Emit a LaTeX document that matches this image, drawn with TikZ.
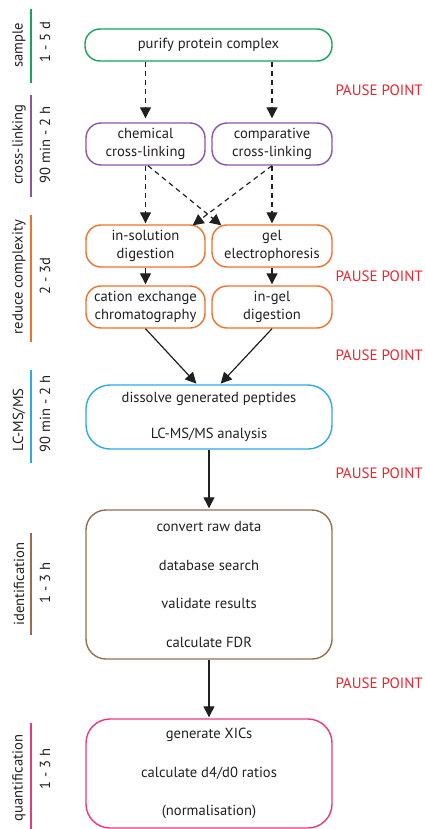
\documentclass[tikz,border=0pt]{standalone}
\usepackage{fontspec}
\setmainfont{PT Sans}
\usetikzlibrary{arrows.meta,calc}
\definecolor{cgreen}{RGB}{20,165,90}
\definecolor{cpurple}{RGB}{140,85,170}
\definecolor{corange}{RGB}{242,112,45}
\definecolor{cblue}{RGB}{45,170,225}
\definecolor{cbrown}{RGB}{150,110,75}
\definecolor{cpink}{RGB}{235,55,130}
\definecolor{cred}{RGB}{238,35,45}
\definecolor{ink}{RGB}{35,31,32}
\begin{document}
\begin{tikzpicture}[x=1pt,y=-1pt,
  font=\fontsize{14.6}{18.5}\selectfont,
  box/.style={draw, line width=1.4pt, rounded corners=15pt, align=center,
    inner sep=1pt, text=ink},
  small/.style={box, minimum width=119pt, minimum height=42pt, text width=117pt},
  big/.style={box, minimum width=246pt, rounded corners=24pt},
  flow/.style={draw=ink, line width=1.2pt, -{Triangle[width=11pt,length=11pt]}},
  dflow/.style={flow, dash pattern=on 5pt off 4pt},
  pause/.style={anchor=west, text=cred, font=\fontsize{15}{18}\selectfont},
  phase/.style={rotate=90, text=ink},
  bar/.style={line width=1.5pt}]
\useasboundingbox (0,0) rectangle (425,829);

% main steps
\node[box, draw=cgreen, minimum width=247pt, minimum height=32pt] (purify) at (208.5,45) {purify protein complex};
\node[small, draw=cpurple] (chem) at (145.5,144) {chemical\\cross-linking};
\node[small, draw=cpurple, minimum width=120pt] (comp) at (272,144) {comparative\\cross-linking};
\node[small, draw=corange] (insol) at (145.5,246) {in-solution\\digestion};
\node[small, draw=corange, minimum width=120pt] (gel) at (272,246) {gel\\electrophoresis};
\node[small, draw=corange] (cation) at (145.5,307) {cation exchange\\chromatography};
\node[small, draw=corange, minimum width=120pt] (ingel) at (272,307) {in-gel\\digestion};
\node[big, draw=cblue, minimum height=64pt] (dissolve) at (209,417)
  {dissolve generated peptides\\[18pt]LC-MS/MS analysis};
\node[big, draw=cbrown, minimum height=149pt, rounded corners=20pt] (ident) at (209,584.5)
  {convert raw data\\[20pt]database search\\[20pt]validate results\\[20pt]calculate FDR};
\node[big, draw=cpink, minimum height=109pt] (quant) at (209,773.5)
  {generate XICs\\[20pt]calculate d4/d0 ratios\\[20pt](normalisation)};

% connectors
\draw[dflow, shorten >=4pt] (chem.north |- purify.south) -- (chem.north);
\draw[dflow, shorten >=4pt] (comp.north |- purify.south) -- (comp.north);
\draw[dflow, shorten >=1pt] (chem.south) -- (insol.north);
\draw[dflow, shorten >=1pt] (comp.south) -- (gel.north);
\coordinate (chemout) at ($(chem.south)+(2.5,0)$);
\coordinate (compout) at (comp.south);
\coordinate (gelin) at ($(gel.north west)+(10,1)$);
\coordinate (insolin) at ($(insol.north east)+(-13,1)$);
\draw[dflow] (chemout) -- (gelin);
\draw[dflow] (compout) -- (insolin);
\draw[flow, shorten >=1pt] (insol.south) -- (cation.north);
\draw[flow, shorten >=1pt] (gel.south) -- (ingel.north);
\coordinate (dinl) at ($(dissolve.north)+(-12,0)$);
\coordinate (dinr) at ($(dissolve.north)+(11,0)$);
\draw[flow, shorten >=1pt] (cation.south) -- (dinl);
\draw[flow, shorten >=1pt] (ingel.south) -- (dinr);
\draw[flow, shorten >=1pt] (dissolve.south) -- (ident.north);
\draw[flow, shorten >=1pt] (ident.south) -- (quant.north);

% pause points
\node[pause] (p1) at (332,90) {PAUSE POINT};
\node[pause] (p2) at (332,276) {PAUSE POINT};
\node[pause] (p3) at (332,355) {PAUSE POINT};
\node[pause] (p4) at (332,473) {PAUSE POINT};
\node[pause] (p5) at (332,683) {PAUSE POINT};

% phase labels with durations
\draw[bar, cgreen] (31,9) -- (31,83);
\node[phase] (s1) at (19,45) {sample};
\node[phase] (t1) at (45,42) {1 - 5 d};
\draw[bar, cpurple] (31,95) -- (31,197);
\node[phase] (s2) at (19,145) {cross-linking};
\node[phase] (t2) at (45,145) {90 min - 2 h};
\draw[bar, corange] (31,215) -- (31,342);
\node[phase] (s3) at (19,277) {reduce complexity};
\node[phase] (t3) at (45,276) {2 - 3d};
\draw[bar, cblue] (31,370) -- (31,463);
\node[phase] (s4) at (19,420) {LC-MS/MS};
\node[phase] (t4) at (45,414) {90 min - 2 h};
\draw[bar, cbrown] (31,533) -- (31,635);
\node[phase] (s5) at (19,584) {identification};
\node[phase] (t5) at (45,583) {1 - 3 h};
\draw[bar, cpink] (31,723) -- (31,829);
\node[phase] (s6) at (19,778) {quantification};
\node[phase] (t6) at (45,769) {1 - 3 h};
\end{tikzpicture}
\end{document}
